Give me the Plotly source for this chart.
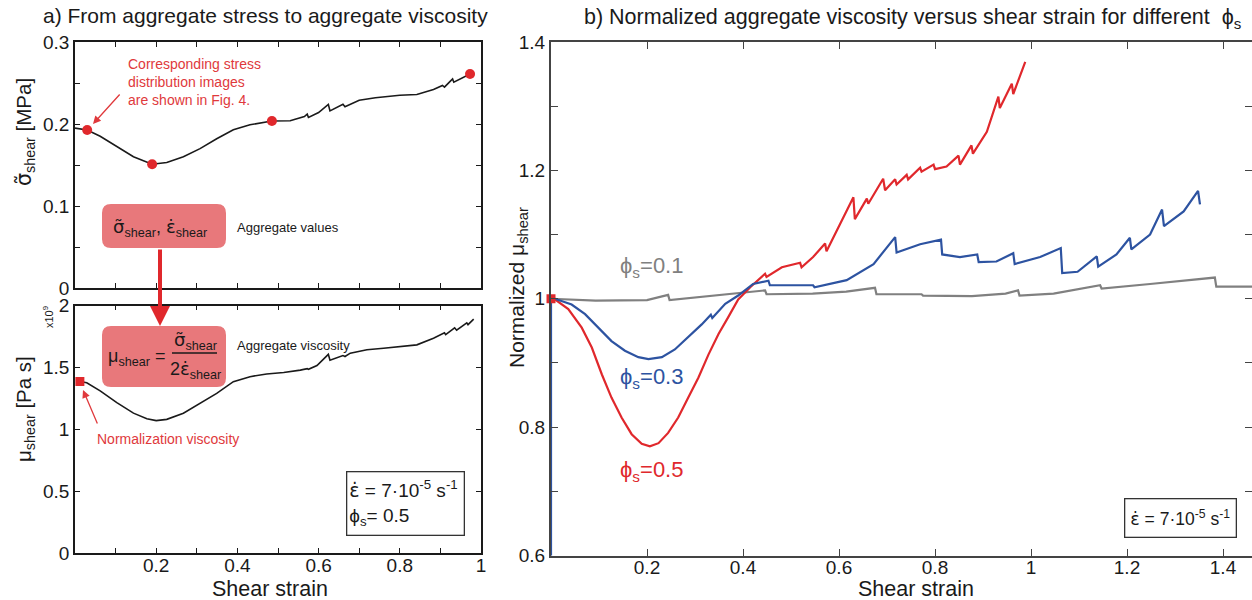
import plotly.graph_objects as go

W, H = 1252, 600
FONT = "Liberation Sans, Arial, sans-serif"

# ---------------- data ----------------
# a) aggregate shear stress [MPa] vs shear strain
strain_stress = [0.0, 0.03, 0.062, 0.103, 0.144, 0.19, 0.226, 0.267, 0.308, 0.349,
                 0.39, 0.431, 0.485, 0.53, 0.565, 0.572, 0.575, 0.60, 0.624, 0.628,
                 0.66, 0.665, 0.70, 0.74, 0.76, 0.80, 0.842, 0.883, 0.905, 0.91,
                 0.924, 0.93, 0.933, 0.955, 0.973, 0.98]
stress_mpa = [0.195, 0.1927, 0.185, 0.172, 0.160, 0.151, 0.153, 0.160, 0.170, 0.182,
              0.193, 0.199, 0.2037, 0.204, 0.209, 0.212, 0.208, 0.214, 0.224, 0.216,
              0.224, 0.221, 0.229, 0.232, 0.233, 0.235, 0.236, 0.242, 0.247, 0.245,
              0.252, 0.255, 0.251, 0.257, 0.261, 0.262]
dot_strain = [0.03, 0.19, 0.485, 0.973]
dot_stress = [0.1927, 0.151, 0.2037, 0.261]

# a) aggregate viscosity [x1e9 Pa s] vs shear strain
strain_visc = [0.012, 0.029, 0.062, 0.103, 0.144, 0.177, 0.2, 0.226, 0.267, 0.308,
               0.349, 0.39, 0.431, 0.472, 0.514, 0.555, 0.572, 0.575, 0.596, 0.624,
               0.628, 0.66, 0.665, 0.678, 0.719, 0.76, 0.80, 0.842, 0.883, 0.91,
               0.913, 0.924, 0.935, 0.94, 0.957, 0.965, 0.968, 0.982]
visc_e9 = [1.386, 1.375, 1.31, 1.215, 1.13, 1.085, 1.07, 1.08, 1.13, 1.21,
           1.29, 1.385, 1.425, 1.447, 1.458, 1.478, 1.49, 1.484, 1.515, 1.605,
           1.557, 1.595, 1.588, 1.615, 1.642, 1.655, 1.669, 1.682, 1.736, 1.78,
           1.765, 1.79, 1.82, 1.80, 1.84, 1.86, 1.845, 1.89]
norm_strain = [0.012]
norm_visc = [1.386]

# b) normalized viscosity, phi_s = 0.5
strain_p05 = [0.0, 0.008, 0.036, 0.064, 0.085, 0.106, 0.126, 0.147, 0.168, 0.189,
              0.206, 0.224, 0.244, 0.265, 0.286, 0.307, 0.328, 0.349, 0.369, 0.39,
              0.415, 0.446, 0.449, 0.481, 0.519, 0.522, 0.546, 0.571, 0.574, 0.595,
              0.63, 0.633, 0.658, 0.661, 0.692, 0.696, 0.717, 0.72, 0.741, 0.744,
              0.769, 0.772, 0.797, 0.8, 0.824, 0.849, 0.852, 0.876, 0.879, 0.908,
              0.932, 0.935, 0.96, 0.963, 0.988]
mu_p05 = [1.0, 0.999, 0.984, 0.955, 0.924, 0.882, 0.846, 0.815, 0.789, 0.774,
          0.770, 0.775, 0.791, 0.815, 0.846, 0.877, 0.913, 0.945, 0.971, 0.999,
          1.018, 1.039, 1.034, 1.049, 1.056, 1.049, 1.065, 1.086, 1.074, 1.106,
          1.158, 1.124, 1.156, 1.148, 1.187, 1.169, 1.186, 1.178, 1.193, 1.186,
          1.204, 1.198, 1.209, 1.202, 1.206, 1.223, 1.209, 1.239, 1.226, 1.26,
          1.315, 1.297, 1.335, 1.319, 1.369]

# b) normalized viscosity, phi_s = 0.3 (starts from zero at the origin)
strain_p03 = [0.0, 0.0, 0.008, 0.043, 0.071, 0.099, 0.126, 0.154, 0.182, 0.203,
              0.231, 0.258, 0.286, 0.314, 0.333, 0.336, 0.363, 0.39, 0.421, 0.453,
              0.456, 0.546, 0.549, 0.616, 0.672, 0.717, 0.72, 0.769, 0.8125, 0.815,
              0.852, 0.888, 0.891, 0.928, 0.963, 0.966, 1.019, 1.062, 1.065, 1.097,
              1.137, 1.14, 1.178, 1.206, 1.209, 1.248, 1.273, 1.277, 1.318, 1.348,
              1.352]
mu_p03 = [0.0, 1.0, 1.0, 0.991, 0.976, 0.955, 0.934, 0.919, 0.909, 0.906,
          0.909, 0.921, 0.940, 0.960, 0.975, 0.970, 0.992, 1.005, 1.023, 1.028,
          1.021, 1.021, 1.018, 1.029, 1.054, 1.096, 1.072, 1.085, 1.092, 1.069,
          1.065, 1.069, 1.057, 1.058, 1.071, 1.054, 1.065, 1.079, 1.04, 1.042,
          1.066, 1.05, 1.069, 1.095, 1.077, 1.1, 1.139, 1.113, 1.136, 1.168,
          1.147]

# b) normalized viscosity, phi_s = 0.1
strain_p01 = [0.0, 0.093, 0.2, 0.244, 0.247, 0.344, 0.446, 0.449, 0.545, 0.615,
              0.675, 0.678, 0.772, 0.775, 0.877, 0.947, 0.973, 0.976, 1.047, 1.144,
              1.147, 1.248, 1.383, 1.386, 1.47]
mu_p01 = [1.0, 0.997, 0.998, 1.006, 0.998, 1.005, 1.013, 1.007, 1.008, 1.011,
          1.017, 1.007, 1.007, 1.005, 1.004, 1.008, 1.013, 1.005, 1.008, 1.021,
          1.016, 1.023, 1.033, 1.019, 1.019]
start_strain = [0.0]
start_mu = [1.0]

# ---------------- styling ----------------
RED = "#e0282c"
RED_TXT = "#e0393c"
BOX_FILL = "#e8787b"
BLUE = "#2d53a1"
GRAY = "#808080"
INK = "#1a1a1a"


def px(x):
    return x / W


def py(y):
    return 1 - y / H


fig = go.Figure()

fig.add_trace(go.Scatter(x=strain_stress, y=stress_mpa, mode="lines",
                         line=dict(color=INK, width=1.6), xaxis="x", yaxis="y"))
fig.add_trace(go.Scatter(x=dot_strain, y=dot_stress, mode="markers",
                         marker=dict(color=RED, size=10), cliponaxis=False,
                         xaxis="x", yaxis="y"))
fig.add_trace(go.Scatter(x=strain_visc, y=visc_e9, mode="lines",
                         line=dict(color=INK, width=1.6), xaxis="x2", yaxis="y2"))
fig.add_trace(go.Scatter(x=norm_strain, y=norm_visc, mode="markers",
                         marker=dict(color=RED, size=9, symbol="square"),
                         cliponaxis=False, xaxis="x2", yaxis="y2"))

fig.add_trace(go.Scatter(x=strain_p01, y=mu_p01, mode="lines",
                         line=dict(color=GRAY, width=2.2), xaxis="x3", yaxis="y3"))
fig.add_trace(go.Scatter(x=strain_p05, y=mu_p05, mode="lines",
                         line=dict(color=RED, width=2.2), xaxis="x3", yaxis="y3"))
fig.add_trace(go.Scatter(x=strain_p03, y=mu_p03, mode="lines",
                         line=dict(color=BLUE, width=2.2), xaxis="x3", yaxis="y3"))
fig.add_trace(go.Scatter(x=start_strain, y=start_mu, mode="markers",
                         marker=dict(color=RED, size=9, symbol="square"),
                         cliponaxis=False, xaxis="x3", yaxis="y3"))


def fmt(v):
    s = ("%.2f" % v).rstrip("0").rstrip(".")
    return s


axis_common = dict(showgrid=False, zeroline=False, showline=True, ticks="inside",
                   mirror="ticks", automargin=False,
                   tickfont=dict(family=FONT, size=19, color=INK))

# top-left: stress
top_y_vals = [i * 0.05 for i in range(7)]
fig.update_layout(
    xaxis=dict(axis_common, domain=[px(75), px(481)], range=[0, 1], anchor="y",
               tickvals=[i / 10 for i in range(1, 10)], showticklabels=False,
               linecolor=INK, linewidth=1.5, tickcolor=INK, ticklen=5),
    yaxis=dict(axis_common, domain=[py(288), py(42)], range=[0, 0.3], anchor="x",
               tickvals=top_y_vals,
               ticktext=[fmt(v) if i % 2 == 0 else "" for i, v in enumerate(top_y_vals)],
               linecolor=INK, linewidth=1.5, tickcolor=INK, ticklen=5),
)

# bottom-left: viscosity
bot_x_vals = [i / 10 for i in range(1, 11)]
bot_y_vals = [0, 0.5, 1, 1.5, 2]
fig.update_layout(
    xaxis2=dict(axis_common, domain=[px(75), px(481)], range=[0, 1], anchor="y2",
                tickvals=bot_x_vals,
                ticktext=[fmt(v) if i % 2 == 1 else "" for i, v in enumerate(bot_x_vals)],
                linecolor=INK, linewidth=1.5, tickcolor=INK, ticklen=5,
                ticklabelstandoff=-6),
    yaxis2=dict(axis_common, domain=[py(553), py(305.5)], range=[0, 2], anchor="x2",
                tickvals=bot_y_vals, ticktext=[fmt(v) for v in bot_y_vals],
                linecolor=INK, linewidth=1.5, tickcolor=INK, ticklen=5),
)

# right: normalized viscosity
r_x_vals = [0.2, 0.4, 0.6, 0.8, 1.0, 1.2, 1.4]
r_y_vals = [0.6 + i * 0.1 for i in range(9)]
fig.update_layout(
    xaxis3=dict(axis_common, domain=[px(551), 1.0], range=[0, 1.4604], anchor="y3",
                tickvals=r_x_vals, ticktext=[fmt(v) for v in r_x_vals],
                linecolor="#444", linewidth=2, tickcolor="#444", ticklen=7,
                ticklabelstandoff=-6),
    yaxis3=dict(axis_common, domain=[py(555.5), py(42)], range=[0.6, 1.4], anchor="x3",
                tickvals=r_y_vals,
                ticktext=[fmt(v) if i % 2 == 0 else "" for i, v in enumerate(r_y_vals)],
                linecolor="#444", linewidth=2, tickcolor="#444", ticklen=7),
)


def rounded_rect(x0, y0, x1, y1, r):
    pts = [
        ("M", (x0 + r, y0)), ("L", (x1 - r, y0)), ("Q", (x1, y0), (x1, y0 + r)),
        ("L", (x1, y1 - r)), ("Q", (x1, y1), (x1 - r, y1)), ("L", (x0 + r, y1)),
        ("Q", (x0, y1), (x0, y1 - r)), ("L", (x0, y0 + r)), ("Q", (x0, y0), (x0 + r, y0)),
    ]
    out = []
    for p in pts:
        cmd = p[0]
        coords = " ".join("%.5f,%.5f" % (px(a), py(b)) for a, b in p[1:])
        out.append(cmd + " " + coords)
    return " ".join(out) + " Z"


shapes = [
    dict(type="path", xref="paper", yref="paper", path=rounded_rect(102, 204, 226, 248, 9),
         fillcolor=BOX_FILL, line=dict(width=0), layer="above"),
    dict(type="path", xref="paper", yref="paper", path=rounded_rect(102, 326, 226, 387, 9),
         fillcolor=BOX_FILL, line=dict(width=0), layer="above"),
    # fraction bar of the viscosity formula
    dict(type="line", xref="paper", yref="paper", x0=px(172), x1=px(217), y0=py(353),
         y1=py(353), line=dict(color=INK, width=1.5), layer="above"),
]

# accented symbols set in a font with proper mark positioning
SIG = '<span style="font-family:DejaVu Sans">\u03c3\u0303</span>'
EPS = '<span style="font-family:DejaVu Sans">\u03b5\u0307</span>'
PHI = "\u03d5"

ann = []


def text(x, y, s, size, color=INK, xanchor="center", yanchor="middle", angle=0, align="center"):
    ann.append(dict(x=px(x), y=py(y), xref="paper", yref="paper", text=s, showarrow=False,
                    font=dict(family=FONT, size=size, color=color), xanchor=xanchor,
                    yanchor=yanchor, textangle=angle, align=align))


def arrow(x_tip, y_tip, x_tail, y_tail, color, width, head=2, size=1.0):
    ann.append(dict(x=px(x_tip), y=py(y_tip), xref="paper", yref="paper", text="",
                    showarrow=True, ax=x_tail - x_tip, ay=y_tail - y_tip, axref="pixel",
                    ayref="pixel", arrowcolor=color, arrowwidth=width, arrowhead=head,
                    arrowsize=size, standoff=0, startstandoff=0))


# titles
text(265, 16, "a) From aggregate stress to aggregate viscosity", 21)
text(912, 18, "b) Normalized aggregate viscosity versus shear strain for different  "
     + PHI + "<sub>s</sub>", 21.5)

# axis titles
text(25, 132, SIG + "<sub>shear</sub> [MPa]", 20.5, angle=-90)
text(25, 409, "\u03bc<sub>shear</sub> [Pa s]", 20.5, angle=-90)
text(48, 317, "x10<sup>9</sup>", 11, angle=-90)
text(270, 589, "Shear strain", 21.5)
text(916, 589, "Shear strain", 21.5)
text(518, 288, "Normalized \u03bc<sub>shear</sub>", 21, angle=-90)

# left-panel notes
text(126, 82, "Corresponding stress<br>distribution images<br>are shown in Fig. 4.", 14,
     color=RED_TXT, xanchor="left", align="left")
arrow(93, 124, 121, 93, RED_TXT, 1.3, head=2, size=1.2)
text(95, 439, "Normalization viscosity", 14, color=RED_TXT, xanchor="left")
arrow(83, 390, 98, 425, RED_TXT, 1.3, head=2, size=1.2)

arrow(160, 326, 160, 248, RED, 4, head=2, size=1.0)

text(160, 228, SIG + "<sub>shear</sub>, " + EPS + "<sub>shear</sub>", 18)
text(235, 227, "Aggregate values", 13, xanchor="left")
text(136, 357, "\u03bc<sub>shear</sub> =", 18)
text(195, 341, SIG + "<sub>shear</sub>", 18)
text(195, 370, "2" + EPS + "<sub>shear</sub>", 18)
text(235, 345, "Aggregate viscosity", 13, xanchor="left")

# parameter boxes
ann.append(dict(x=px(405.5), y=py(503), xref="paper", yref="paper", showarrow=False,
                xanchor="center", yanchor="middle",
                text=EPS + " = 7\u00b710<sup>-5</sup> s<sup>-1</sup><br>" + PHI
                + "<sub>s</sub>= 0.5",
                font=dict(family=FONT, size=19, color=INK), align="left",
                bordercolor="#333", borderwidth=1.3, borderpad=2, bgcolor="white",
                width=112, height=58))
ann.append(dict(x=px(1180.5), y=py(518), xref="paper", yref="paper", showarrow=False,
                xanchor="center", yanchor="middle",
                text=EPS + " = 7\u00b710<sup>-5</sup> s<sup>-1</sup>",
                font=dict(family=FONT, size=17.5, color=INK), align="center",
                bordercolor="#333", borderwidth=1.3, borderpad=2, bgcolor="white",
                width=106, height=33))

# curve labels
text(651, 267, PHI + "<sub>s</sub>=0.1", 22, color=GRAY)
text(651, 378, PHI + "<sub>s</sub>=0.3", 22, color=BLUE)
text(651, 471, PHI + "<sub>s</sub>=0.5", 22, color=RED)

fig.update_layout(
    template="none",
    width=W, height=H, margin=dict(l=0, r=0, t=0, b=0, pad=0, autoexpand=False),
    paper_bgcolor="white", plot_bgcolor="rgba(0,0,0,0)", showlegend=False,
    shapes=shapes, annotations=ann, font=dict(family=FONT),
)

fig.write_html("out.html")
